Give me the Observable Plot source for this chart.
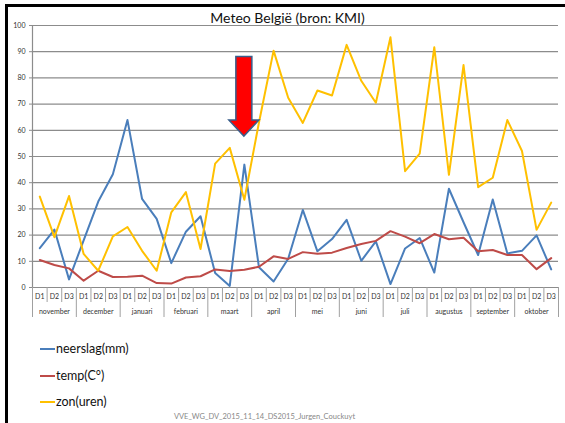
<!DOCTYPE html>
<html>
<head>
<meta charset="utf-8">
<script src="https://cdn.jsdelivr.net/npm/d3@7"></script>
<script src="https://cdn.jsdelivr.net/npm/@observablehq/plot@0.6"></script>
<style>
  html, body { margin: 0; padding: 0; background: #fff; }
  body { width: 565px; height: 423px; position: relative; overflow: hidden; font-family: Lato, "Open Sans", sans-serif; }
  #frame { position: absolute; left: 5px; top: 4px; width: 560px; height: 419px; border-left: 3px solid #000; border-top: 3px solid #000; box-sizing: border-box; }
  #title { position: absolute; left: 0; width: 575px; top: 9px; text-align: center; font-size: 14px; color: #111; line-height: 17px; }
  #chart { position: absolute; left: 0; top: 0; }
  .leg { position: absolute; left: 40px; font-size: 12.5px; color: #111; line-height: 16px; display: flex; align-items: center; }
  .leg span.sw { display: inline-block; width: 15px; height: 2px; margin-right: 1px; }
  #caption { position: absolute; left: 0; width: 529px; top: 412px; text-align: center; font-size: 7.5px; color: #888; }
</style>
</head>
<body>
<div id="frame"></div>
<div id="title">Meteo België (bron: KMI)</div>
<div id="chart"></div>
<div id="legend"></div>
<div id="caption">VVE_WG_DV_2015_11_14_DS2015_Jurgen_Couckuyt</div>
<script>
const months = ["november","december","januari","februari","maart","april","mei","juni","juli","augustus","september","oktober"];
const decades = ["D1","D2","D3"];
const yTicks = [0,10,20,30,40,50,60,70,80,90,100];

const neerslag = [15,22.1,3.1,18,32.8,43.2,63.9,33.8,26.2,9.3,21.3,27.2,
                  5.5,0.6,46.9,7.7,2.3,11,29.6,13.8,18.5,25.8,10.2,17.6,
                  1.3,14.9,18.9,5.7,37.7,24.9,12.4,33.6,13.0,14.0,19.9,6.9];
const temp =     [10.5,8.6,7.3,2.6,6.4,4.0,4.1,4.5,1.7,1.5,3.8,4.3,
                  6.9,6.3,6.8,7.9,11.9,10.9,13.5,12.9,13.3,15.1,16.6,17.8,
                  21.5,19.4,16.9,20.4,18.4,19.0,13.8,14.3,12.4,12.4,7.0,11.2];
const zon =      [34.7,19.2,34.9,12.8,6.4,19.5,23.1,14,6.4,28.7,36.4,14.7,
                  47.3,53.3,33.5,63,90.4,72.4,62.8,75.2,73.3,92.6,78.9,70.5,
                  95.5,44.4,51.1,91.7,43.0,84.9,38.3,41.9,63.9,52.1,22.0,32.4];

const seriesNames = ["neerslag(mm)","temp(C°)","zon(uren)"];
const seriesColors = ["#4a7ebb","#be4b48","#ffc000"];

// annotation: arrow pointing at maart D3
const arrowAt = {index: 14, top: 88, neck: 63.7, tip: 57.6};

const idx = d3.range(months.length * decades.length);
const rows = [];
[neerslag, temp, zon].forEach((arr, s) => arr.forEach((v, i) => rows.push({i, v, s: seriesNames[s]})));

const boundaries = d3.range(idx.length + 1).map(i => i - 0.5);
const monthBounds = boundaries.filter((b, k) => k % 3 === 0);
const dayBounds = boundaries.filter((b, k) => k % 3 !== 0);
const monthCenters = months.map((m, k) => k * 3 + 1);

const chart = Plot.plot({
  width: 565,
  height: 325,
  marginTop: 25,
  marginBottom: 38,
  marginLeft: 32,
  marginRight: 7,
  style: {fontSize: "7px", fontFamily: "Lato, 'Open Sans', sans-serif", color: "#333", background: "transparent", overflow: "visible"},
  x: {type: "linear", domain: [-0.5, idx.length - 0.5], label: null},
  y: {domain: [0, 100], label: null},
  color: {domain: seriesNames, range: seriesColors},
  marks: [
    Plot.gridY(yTicks, {stroke: "#8c8c8c", strokeOpacity: 1, strokeWidth: 1.2}),
    Plot.axisY(yTicks, {tickSize: 3, tickPadding: 4, stroke: "#8c8c8c", fill: "#333", label: null}),
    Plot.ruleX([-0.5], {stroke: "#8c8c8c", strokeWidth: 1.2}),
    Plot.axisX(dayBounds, {tickSize: 15, tickFormat: () => "", stroke: "#a0a0a0", label: null}),
    Plot.axisX(monthBounds, {tickSize: 30, tickFormat: () => "", stroke: "#a0a0a0", label: null}),
    Plot.axisX(idx, {tickSize: 0, tickPadding: 7, tickFormat: i => decades[i % 3], fill: "#333", label: null}),
    Plot.axisX(monthCenters, {tickSize: 0, tickPadding: 22, tickFormat: i => months[(i - 1) / 3], fill: "#333", label: null}),
    Plot.line(rows, {x: "i", y: "v", z: "s", stroke: "s", strokeWidth: 2, curve: "linear"})
  ]
});
document.getElementById("chart").appendChild(chart);

// arrow annotation drawn with the chart's own scales
const xs = chart.scale("x"), ys = chart.scale("y");
const ax = xs.apply(arrowAt.index), yTop = ys.apply(arrowAt.top), yNeck = ys.apply(arrowAt.neck), yTip = ys.apply(arrowAt.tip);
const sw = 8, hw = 15;
d3.select(chart).append("path")
  .attr("d", `M${ax - sw},${yTop}L${ax + sw},${yTop}L${ax + sw},${yNeck}L${ax + hw},${yNeck}L${ax},${yTip}L${ax - hw},${yNeck}L${ax - sw},${yNeck}Z`)
  .attr("fill", "#ff0000").attr("stroke", "#385d8a").attr("stroke-width", 1.5).attr("stroke-linejoin", "miter");

// legend
const legend = document.getElementById("legend");
seriesNames.forEach((n, k) => {
  const d = document.createElement("div");
  d.className = "leg";
  d.style.top = (341 + k * 26.5) + "px";
  d.innerHTML = `<span class="sw" style="background:${seriesColors[k]}"></span>${n}`;
  legend.appendChild(d);
});
</script>
</body>
</html>
